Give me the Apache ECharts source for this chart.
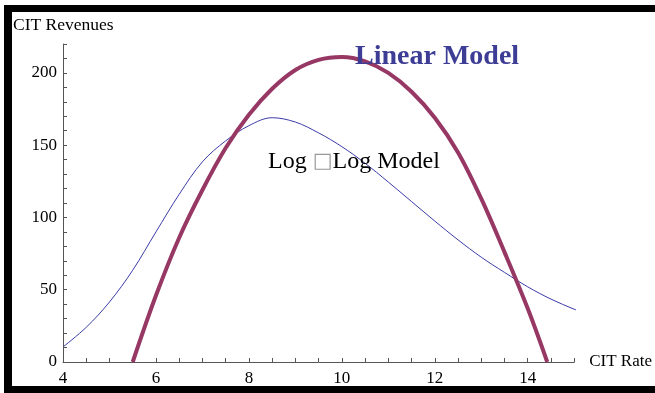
<!DOCTYPE html>
<html><head><meta charset="utf-8">
<script src="https://cdn.jsdelivr.net/npm/echarts@6/dist/echarts.min.js"></script>
<style>html,body{margin:0;padding:0;background:#fff}#c{width:655px;height:393px}</style>
</head><body><div id="c"></div>
<script>
// Linear model (thick curve)
const linearX = [5.5, 6, 6.5, 7, 7.5, 8, 8.5, 9, 9.5, 10, 10.5, 11, 11.5, 12, 12.5, 13, 13.5, 14, 14.42];
const linearY = [0, 46, 86, 119, 148, 171, 189, 202, 209, 211, 208, 200, 187, 169, 145, 113, 76, 37, 0];
// Log-Log model (thin curve)
const logX = [4, 4.5, 5, 5.5, 6, 6.5, 7, 7.5, 8, 8.5, 9, 9.5, 10, 10.5, 11, 11.5, 12, 12.5, 13, 13.5, 14, 14.5, 15, 15.07];
const logY = [10.4, 24, 41.5, 63.5, 90, 116, 138.5, 153, 163.5, 169, 166, 158.5, 149, 137.5, 124.5, 111, 97.5, 84.5, 72.5, 62, 52, 43.5, 36.5, 35.8];
const xTickLabels = [4, 6, 8, 10, 12, 14];
const yTickLabels = [0, 50, 100, 150, 200];
const xName = 'CIT Rate';
const yName = 'CIT Revenues';
const linearLabel = 'Linear Model';

const font = "'Liberation Serif', 'DejaVu Serif', serif";
const chart = echarts.init(document.getElementById('c'), null, {renderer: 'canvas'});
const axisCol = '#555';
chart.setOption({
  animation: false,
  backgroundColor: '#fff',
  grid: {left: 63, right: 78, top: 44, bottom: 31, containLabel: false},
  xAxis: {
    type: 'value', min: 4, max: 15, interval: 0.5,
    name: xName, nameLocation: 'end', nameGap: 15,
    nameTextStyle: {fontFamily: font, fontSize: 17, color: '#000', verticalAlign: 'middle'},
    axisLine: {onZero: false, lineStyle: {color: axisCol, width: 1}},
    axisTick: {inside: true, length: 4, lineStyle: {color: axisCol}},
    splitLine: {show: false},
    axisLabel: {
      margin: 8, fontFamily: font, fontSize: 17, color: '#000',
      showMaxLabel: true, showMinLabel: true,
      formatter: v => xTickLabels.indexOf(Math.round(v * 100) / 100) >= 0 ? String(v) : ''
    }
  },
  yAxis: {
    type: 'value', min: 0, max: 220, interval: 10,
    axisLine: {show: true, onZero: false, lineStyle: {color: axisCol, width: 1}},
    axisTick: {show: true, inside: true, length: 4, lineStyle: {color: axisCol}},
    splitLine: {show: false},
    axisLabel: {
      margin: 6, fontFamily: font, fontSize: 17, color: '#000',
      formatter: v => yTickLabels.indexOf(v) >= 0 ? String(v) : ''
    }
  },
  series: [
    {
      type: 'line', name: 'Log-Log', data: logX.map((x, i) => [x, logY[i]]),
      showSymbol: false, smooth: 0.35, clip: false,
      lineStyle: {color: '#3b3ba8', width: 1}, z: 2
    },
    {
      type: 'line', name: 'Linear', data: linearX.map((x, i) => [x, linearY[i]]),
      showSymbol: false, smooth: 0.35, clip: false,
      lineStyle: {color: '#963764', width: 4}, z: 3
    }
  ],
  graphic: [
    {type: 'rect', shape: {x: 4, y: 5, width: 651, height: 7}, style: {fill: '#000'}, silent: true},
    {type: 'rect', shape: {x: 4, y: 5, width: 8, height: 388}, style: {fill: '#000'}, silent: true},
    {type: 'rect', shape: {x: 4, y: 386, width: 651, height: 7}, style: {fill: '#000'}, silent: true},
    {type: 'text', x: 13, y: 25, style: {text: yName, fontFamily: font, fontSize: 17.5, fill: '#000', verticalAlign: 'middle'}, z: 10},
    {type: 'text', x: 355, y: 57, style: {text: linearLabel, fontFamily: font, fontSize: 28, fontWeight: 'bold', fill: '#3d3d96', verticalAlign: 'middle'}, z: 10},
    {type: 'text', x: 268, y: 162, style: {
      text: 'Log {b|\u25A1}Log Model', fontFamily: font, fontSize: 24, fill: '#000', verticalAlign: 'middle',
      rich: {b: {fontFamily: "'DejaVu Sans', sans-serif", fontSize: 21, fill: '#999'}}
    }, z: 10}
  ]
});
</script>
</body></html>
